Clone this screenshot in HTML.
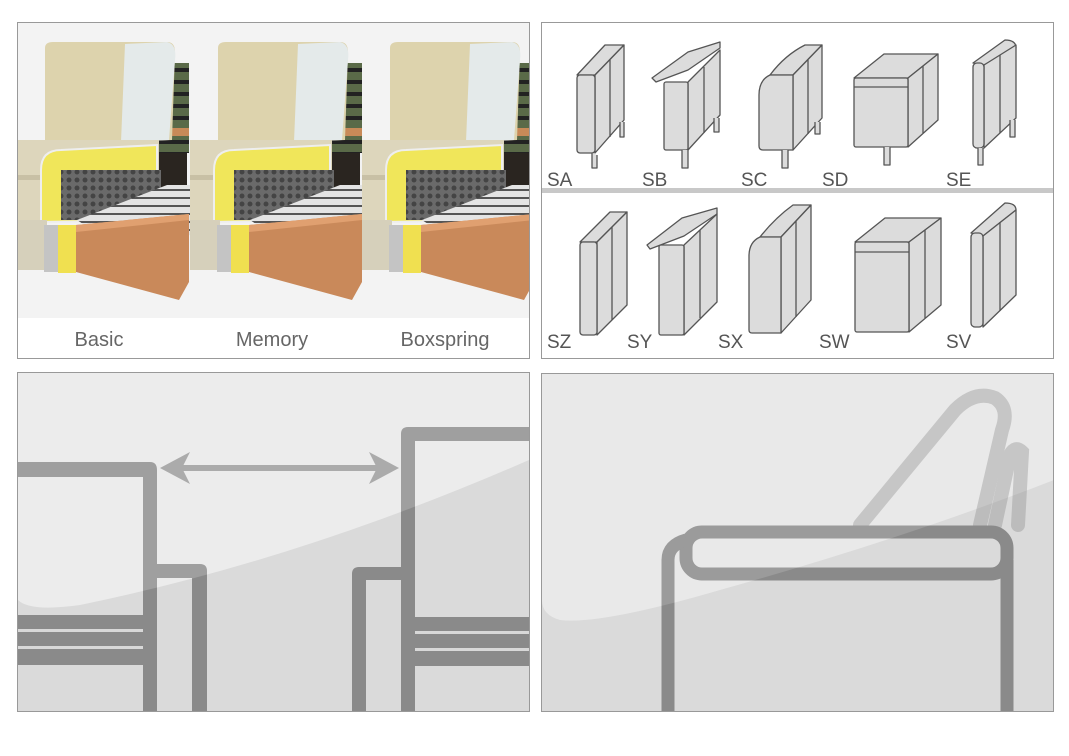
<!DOCTYPE html>
<html><head><meta charset="utf-8"><style>
html,body{margin:0;padding:0;background:#fff;}
svg{display:block;}
text{font-family:"Liberation Sans",sans-serif;}
</style></head><body>
<svg width="1069" height="756" viewBox="0 0 1069 756" xmlns="http://www.w3.org/2000/svg">
<defs>
<clipPath id="c1"><rect x="18" y="23" width="511" height="295"/></clipPath>
<clipPath id="c3"><rect x="18" y="373" width="511" height="338"/></clipPath>
<clipPath id="c4"><rect x="542" y="374" width="511" height="337"/></clipPath>
<pattern id="slat" width="10" height="12" patternUnits="userSpaceOnUse"><rect width="10" height="12" fill="#5a6a48"/><rect y="8" width="10" height="4" fill="#222"/></pattern>
<pattern id="coil" width="14" height="8" patternUnits="userSpaceOnUse"><rect width="14" height="8" fill="#e4e4e4"/><rect y="5" width="14" height="2" fill="#555"/></pattern>
<pattern id="spr" width="8" height="8" patternUnits="userSpaceOnUse"><rect width="8" height="8" fill="#6a6a6a"/><circle cx="4" cy="4" r="2.5" fill="#444"/></pattern>
<g id="mod">
  <rect x="0" y="150" width="170" height="60" fill="#2a2520"/>
  <rect x="138" y="63" width="34" height="90" fill="url(#slat)"/>
  <rect x="138" y="128" width="34" height="8" fill="#c88a58"/>
  <path d="M28 48 Q28 42 36 42 L150 42 Q158 42 158 52 L155 140 L28 145 Z" fill="#ddd3ad"/>
  <path d="M108 44 L150 42 Q160 44 158 60 L152 140 L104 142 Z" fill="#e4eaea"/>
  <rect x="0" y="140" width="142" height="80" fill="#ddd6bc"/>
  <rect x="0" y="175" width="40" height="5" fill="#c8c0a5"/>
  <path d="M24 170 Q24 150 44 150 L140 145 L140 220 L24 222 Z" fill="#f0e65a" stroke="#eee" stroke-width="2"/>
  <rect x="44" y="170" width="100" height="50" fill="url(#spr)"/>
  <path d="M60 220 L150 185 L175 185 L175 235 L90 240 Z" fill="url(#coil)"/>
  <rect x="0" y="220" width="30" height="50" fill="#d6d0bb"/>
  <rect x="27" y="225" width="14" height="47" fill="#c4c4c4"/>
  <rect x="41" y="225" width="18" height="48" fill="#f0e050"/>
  <path d="M59 225 L172 214 L172 282 L162 300 L59 272 Z" fill="#c9895a"/>
  <path d="M59 225 L172 214 L172 220 L59 232 Z" fill="#e0a070"/>
</g>
<g id="box">
</g>
</defs>

<!-- Panel 1 -->
<rect x="17.5" y="22.5" width="512" height="336" fill="#fff" stroke="#999"/>
<g clip-path="url(#c1)">
<rect x="18" y="23" width="511" height="295" fill="#f3f3f3"/>
<use href="#mod" x="17" y="0"/>
<use href="#mod" x="190" y="0"/>
<use href="#mod" x="362" y="0"/>
</g>
<text x="99" y="346" font-size="20" fill="#666" text-anchor="middle">Basic</text>
<text x="272" y="346" font-size="20" fill="#666" text-anchor="middle">Memory</text>
<text x="445" y="346" font-size="20" fill="#666" text-anchor="middle">Boxspring</text>

<!-- Panel 2 -->
<rect x="541.5" y="22.5" width="512" height="336" fill="#fff" stroke="#999"/>
<rect x="542" y="188" width="511" height="5" fill="#c8c8c8"/>
<g fill="#dcdcdc" stroke="#555" stroke-width="1.3" stroke-linejoin="round">
<!-- SA -->
<path d="M577 75 L605 45 L624 45 L595 75 Z"/><path d="M595 75 L624 45 L624 120 L595 153 Z"/><rect x="577" y="75" width="18" height="78" rx="3"/><line x1="610" y1="60" x2="610" y2="137"/>
<path d="M592 153 L592 168 L597 168 L597 155" /><path d="M620 122 L620 137 L624 137 L624 122"/>
<!-- SB -->
<path d="M652 78 L688 52 L720 42 L720 48 L688 70 L656 82 Z"/><path d="M688 82 L720 50 L720 115 L688 150 Z"/><rect x="664" y="82" width="24" height="68" rx="2"/><line x1="704" y1="67" x2="704" y2="133"/>
<path d="M682 150 L682 168 L688 168 L688 150"/><path d="M714 118 L714 132 L719 132 L719 118"/>
<!-- SC -->
<path d="M770 75 Q785 55 805 45 L822 45 L793 75 Z"/><path d="M793 75 L822 45 L822 118 L793 150 Z"/><path d="M759 95 Q759 80 770 75 L793 75 L793 150 L763 150 Q759 150 759 146 Z"/><line x1="808" y1="60" x2="808" y2="134"/>
<path d="M782 150 L782 168 L788 168 L788 150"/><path d="M815 122 L815 134 L820 134 L820 122"/>
<!-- SD -->
<path d="M854 78 L884 54 L938 54 L908 78 Z"/><path d="M908 78 L938 54 L938 120 L908 147 Z"/><rect x="854" y="78" width="54" height="69" rx="2"/><line x1="854" y1="87" x2="908" y2="87"/><line x1="923" y1="66" x2="923" y2="133"/>
<path d="M884 147 L884 165 L890 165 L890 147"/>
<!-- SE -->
<path d="M973 63 L1005 40 Q1016 40 1016 48 L984 65 Z"/><path d="M984 65 L1016 45 L1016 118 L984 148 Z"/><rect x="973" y="63" width="11" height="85" rx="4"/><line x1="1000" y1="55" x2="1000" y2="133"/>
<path d="M978 148 L978 165 L983 165 L983 148"/><path d="M1010 120 L1010 137 L1015 137 L1015 120"/>
<!-- SZ -->
<path d="M580 242 L610 212 L627 212 L597 242 Z"/><path d="M597 242 L627 212 L627 305 L597 335 Z"/><rect x="580" y="242" width="17" height="93" rx="3"/><line x1="612" y1="227" x2="612" y2="320"/>
<!-- SY -->
<path d="M647 245 L682 218 L717 208 L717 214 L684 236 L650 249 Z"/><path d="M684 245 L717 214 L717 302 L684 335 Z"/><rect x="659" y="245" width="25" height="90" rx="2"/><line x1="700" y1="230" x2="700" y2="318"/>
<!-- SX -->
<path d="M760 237 Q775 218 793 205 L811 205 L781 237 Z"/><path d="M781 237 L811 205 L811 300 L781 333 Z"/><path d="M749 256 Q749 242 760 237 L781 237 L781 333 L752 333 Q749 333 749 330 Z"/><line x1="796" y1="221" x2="796" y2="317"/>
<!-- SW -->
<path d="M855 242 L885 218 L941 218 L909 242 Z"/><path d="M909 242 L941 218 L941 305 L909 332 Z"/><rect x="855" y="242" width="54" height="90" rx="2"/><line x1="855" y1="252" x2="909" y2="252"/><line x1="925" y1="230" x2="925" y2="318"/>
<!-- SV -->
<path d="M971 233 L1005 203 Q1016 203 1016 210 L983 236 Z"/><path d="M983 236 L1016 210 L1016 295 L983 327 Z"/><rect x="971" y="233" width="12" height="94" rx="4"/><line x1="1000" y1="222" x2="1000" y2="311"/>
</g>
<g font-size="19" fill="#555">
<text x="547" y="186">SA</text><text x="642" y="186">SB</text><text x="741" y="186">SC</text><text x="822" y="186">SD</text><text x="946" y="186">SE</text>
<text x="547" y="348">SZ</text><text x="627" y="348">SY</text><text x="718" y="348">SX</text><text x="819" y="348">SW</text><text x="946" y="348">SV</text>
</g>

<!-- Panel 3 -->
<rect x="17.5" y="372.5" width="512" height="339" fill="#dadada" stroke="#999"/>
<g clip-path="url(#c3)">
<path d="M18 373 L529 373 L529 460 Q300 560 80 605 Q30 612 18 600 Z" fill="#e8e8e8"/>
<g fill="#8a8a8a">
<path d="M17 462 L150 462 Q157 462 157 470 L157 712 L143 712 L143 477 L17 477 Z"/>
<path d="M157 564 L200 564 Q207 564 207 571 L207 712 L192 712 L192 578 L157 578 Z"/>
<rect x="17" y="615" width="126" height="50"/>
<path d="M530 427 L408 427 Q401 427 401 434 L401 712 L415 712 L415 441 L530 441 Z"/>
<path d="M401 567 L359 567 Q352 567 352 574 L352 712 L366 712 L366 580 L401 580 Z"/>
<rect x="415" y="617" width="115" height="49"/>
</g>
<g fill="#d8d8d8"><rect x="17" y="629" width="126" height="3"/><rect x="17" y="646" width="126" height="3"/><rect x="415" y="631" width="115" height="3"/><rect x="415" y="648" width="115" height="3"/></g>
<g fill="#999"><rect x="180" y="465" width="200" height="6"/><path d="M160 468 L190 452 L182 468 L190 484 Z"/><path d="M399 468 L369 452 L377 468 L369 484 Z"/></g>
<path d="M18 373 L529 373 L529 460 Q300 560 80 605 Q30 612 18 600 Z" fill="#fff" opacity="0.18"/>
</g>

<!-- Panel 4 -->
<rect x="541.5" y="373.5" width="512" height="338" fill="#dadada" stroke="#999"/>
<g clip-path="url(#c4)">
<path d="M542 374 L1054 374 L1054 480 Q900 540 720 590 Q600 625 560 620 Q542 615 542 600 Z" fill="#e6e6e6"/>
<g fill="none" stroke="#bcbcbc" stroke-width="14" stroke-linecap="round">
<path d="M860 525 L955 410 Q975 390 995 398 Q1010 408 1002 430 L980 525"/>
<path d="M995 525 L1010 455 Q1015 445 1022 452 L1018 525"/>
</g>
<g fill="none" stroke="#8a8a8a" stroke-width="13">
<rect x="686" y="532" width="321" height="42" rx="16"/>
<path d="M668 712 L668 560 Q668 545 686 540"/>
<path d="M1007 560 L1007 712"/>
</g>
<path d="M542 374 L1054 374 L1054 480 Q900 540 720 590 Q600 625 560 620 Q542 615 542 600 Z" fill="#fff" opacity="0.15"/>
</g>
</svg>
</body></html>
